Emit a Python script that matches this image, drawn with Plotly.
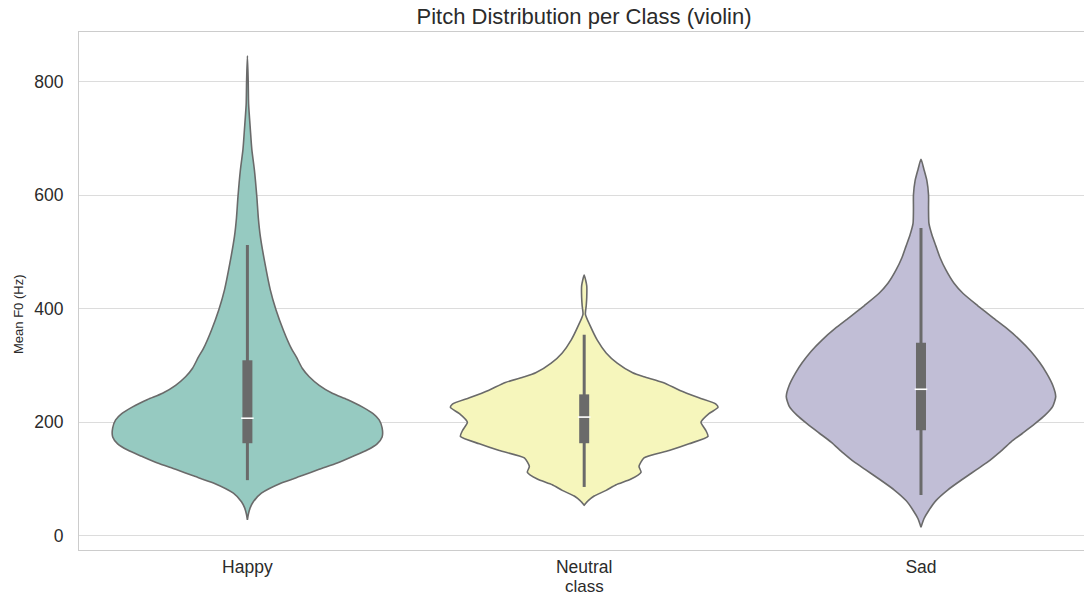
import plotly.graph_objects as go

# Classes and their fill colours (Set3, desaturated)
classes = ["Happy", "Neutral", "Sad"]
fill_colors = ["#96cac1", "#f6f6bc", "#c1bed6"]

# Kernel-density profiles of mean F0 per class: pitch grid (Hz) and
# relative density (1.0 = widest point of the violin)
happy_hz = [845, 800, 760, 715, 680, 644, 597, 560, 527, 480, 433, 398, 362,
            330, 315, 295, 280, 265, 251, 240, 227, 215, 204, 190, 174, 162,
            151, 140, 128, 117, 106, 93, 75, 60, 50, 38, 28]
happy_dens = [0.0, 0.006, 0.009, 0.022, 0.033, 0.052, 0.07, 0.081, 0.096,
              0.13, 0.17, 0.212, 0.267, 0.326, 0.363, 0.407, 0.459, 0.533,
              0.63, 0.741, 0.852, 0.933, 0.978, 1.0, 1.0, 0.963, 0.889, 0.785,
              0.667, 0.533, 0.407, 0.252, 0.104, 0.044, 0.022, 0.007, 0.0]

neutral_hz = [459, 450, 440, 420, 405, 390, 370, 345, 322, 304, 287, 280,
              270, 256, 243, 232, 226, 215, 200, 185, 175, 162, 150, 137,
              122, 112, 100, 90, 80, 70, 62, 54]
neutral_dens = [0.0, 0.011, 0.019, 0.019, 0.015, 0.009, 0.044, 0.096, 0.163,
                0.245, 0.36, 0.444, 0.585, 0.711, 0.852, 0.978, 0.993, 0.926,
                0.867, 0.904, 0.919, 0.778, 0.63, 0.444, 0.407, 0.422, 0.348,
                0.237, 0.163, 0.074, 0.03, 0.0]

sad_hz = [663, 645, 625, 600, 575, 550, 530, 510, 490, 468, 445, 427, 405,
          384, 365, 345, 325, 305, 286, 265, 245, 228, 212, 197, 181, 165,
          146, 130, 117, 100, 81, 62, 45, 30, 15]
sad_dens = [0.0, 0.022, 0.044, 0.056, 0.056, 0.059, 0.081, 0.111, 0.141,
            0.185, 0.244, 0.311, 0.422, 0.533, 0.637, 0.733, 0.815, 0.881,
            0.933, 0.978, 1.0, 0.978, 0.919, 0.844, 0.756, 0.667, 0.578,
            0.496, 0.415, 0.311, 0.2, 0.111, 0.059, 0.022, 0.0]

# Box-plot summary per class (Hz)
whisker_low = [98, 86, 72]
q1 = [163, 163, 186]
median = [207, 209, 258]
q3 = [309, 249, 340]
whisker_high = [512, 354, 542]

profiles = [(happy_hz, happy_dens), (neutral_hz, neutral_dens), (sad_hz, sad_dens)]

HALF_WIDTH = 0.4
OUTLINE = "#6a6a6a"
TEXT = "#2b2b2b"
GRID = "#dcdcdc"

fig = go.Figure()

for i, (name, (hz, dens)) in enumerate(zip(classes, profiles)):
    left = [i - HALF_WIDTH * d for d in dens]
    right = [i + HALF_WIDTH * d for d in dens]
    xs = left + right[::-1]
    ys = list(hz) + list(hz)[::-1]
    fig.add_trace(go.Scatter(
        x=xs, y=ys, mode="lines", fill="toself",
        fillcolor=fill_colors[i],
        line=dict(color=OUTLINE, width=1.6, shape="spline", smoothing=0.6),
        name=name, showlegend=False, hoverinfo="skip",
    ))
    # whiskers
    fig.add_trace(go.Scatter(
        x=[i, i], y=[whisker_low[i], whisker_high[i]], mode="lines",
        line=dict(color=OUTLINE, width=3), showlegend=False, hoverinfo="skip",
    ))
    # interquartile box
    fig.add_trace(go.Scatter(
        x=[i, i], y=[q1[i], q3[i]], mode="lines",
        line=dict(color=OUTLINE, width=10), showlegend=False, hoverinfo="skip",
    ))
    # median
    fig.add_trace(go.Scatter(
        x=[i], y=[median[i]], mode="markers",
        marker=dict(symbol="line-ew", size=9, line=dict(color="white", width=1.6)),
        showlegend=False, hoverinfo="skip",
    ))

fig.update_layout(
    width=1084, height=595,
    margin=dict(l=79, r=0, t=32, b=45),
    paper_bgcolor="white", plot_bgcolor="white",
    font=dict(family="Liberation Sans, Arial, sans-serif", color=TEXT, size=17),
    title=dict(
        text="Pitch Distribution per Class (violin)",
        x=584 / 1084, xanchor="center", xref="container",
        y=1 - 16 / 595, yanchor="middle", yref="container",
        font=dict(size=22, color=TEXT),
    ),
)

fig.update_xaxes(
    range=[-0.5, 2.484],
    tickvals=list(range(len(classes))), ticktext=classes,
    showgrid=False, zeroline=False,
    showline=True, linecolor="#cccccc", linewidth=1.2, mirror=True,
    ticks="", ticklabelstandoff=1,
    tickfont=dict(size=17.5, color=TEXT),
)
fig.update_yaxes(
    range=[-25, 887],
    tickvals=[0, 200, 400, 600, 800],
    showgrid=True, gridcolor=GRID, gridwidth=1.3, zeroline=False,
    showline=True, linecolor="#cccccc", linewidth=1.2, mirror=True,
    ticks="", ticklabelstandoff=11,
    tickfont=dict(size=17.5, color=TEXT),
)

fig.add_annotation(
    text="class", xref="paper", yref="paper", x=(584 - 79) / (1084 - 79),
    y=-(586 - 550) / 518, xanchor="center", yanchor="middle", showarrow=False,
    font=dict(size=17, color=TEXT),
)
fig.add_annotation(
    text="Mean F0 (Hz)", xref="paper", yref="paper",
    x=-(79 - 18) / 1005, y=(550 - 315) / 518, textangle=-90,
    xanchor="center", yanchor="middle", showarrow=False,
    font=dict(size=13, color=TEXT),
)

fig.write_html("out.html")
